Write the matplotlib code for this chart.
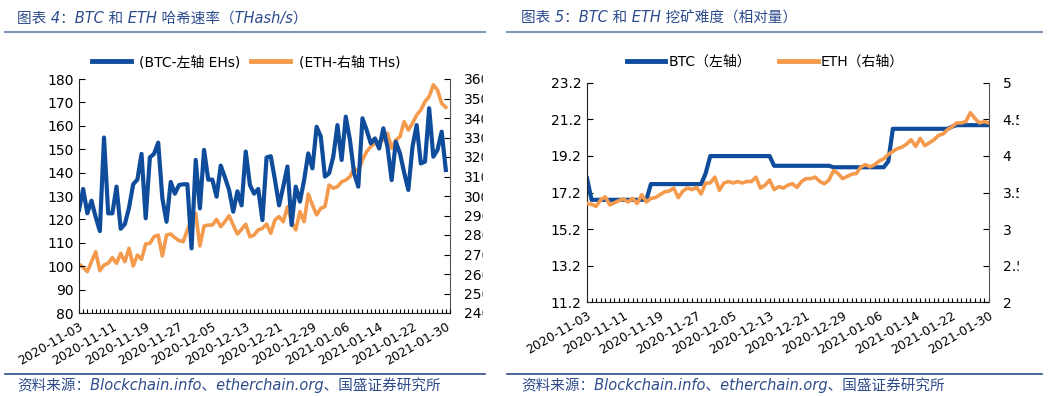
import matplotlib
matplotlib.use("Agg")
import matplotlib.pyplot as plt
from matplotlib.lines import Line2D
from matplotlib.patches import Rectangle
from matplotlib.ticker import MultipleLocator, FixedLocator
import pandas as pd

plt.rcParams['font.family'] = ['DejaVu Sans', 'Noto Sans CJK SC']
plt.rcParams['axes.unicode_minus'] = False

dates = pd.date_range('2020-11-03', periods=89, freq='D')
tick_labels = [d.strftime('%Y-%m-%d') for d in dates[::8]]

# hash rate, BTC (EH/s, left) and ETH (TH/s, right)
btc_hash = [124, 133, 122.6, 128, 121, 115, 155, 122.6, 122.6, 134,
            116, 118, 125, 135, 137, 148, 120.5, 146.5, 148, 152.8,
            129, 119, 136, 131, 134.7, 135, 135, 107.6, 145.4, 124.7,
            149.7, 137, 137, 129.7, 143, 138, 132.6, 123.3, 132, 126,
            149, 134.7, 131, 133, 119.7, 146.5, 147, 137, 126, 134,
            142.6, 117.6, 134, 127.6, 136.8, 148.2, 141.8, 159.6, 155.4, 138.3,
            139.7, 146.8, 160.3, 145.4, 163.9, 153.9, 139.7, 134, 163.2, 158.2,
            152.5, 154.6, 150.3, 158.9, 151, 136.8, 153.2, 148.2, 140, 132.6,
            151, 160.3, 143.9, 144.7, 167.5, 146.8, 149.7, 157.5, 141.1]
eth_hash = [265, 263.4, 261.2, 266.3, 271.4, 261.7, 264.6, 265.5, 268.4, 265.5,
            270.6, 266.3, 273.2, 264.1, 269.7, 267.5, 275.4, 275.7, 279.1, 280,
            269.2, 280, 280.5, 278.6, 277.1, 276.6, 282.6, 287.7, 291.1, 274.4,
            284.6, 285.1, 285.1, 288, 284.3, 286.8, 289.9, 285.1, 280.5, 282.9,
            285.5, 279.1, 280, 282.6, 283.4, 285.6, 280.9, 287.7, 289.4, 286.8,
            294.5, 286.8, 282.6, 292, 286.8, 301, 295.4, 290.3, 293.7, 294.5,
            305.6, 304, 304.8, 307.3, 308.2, 309.9, 314.2, 312.5, 318.5, 322.7,
            325.3, 327, 327.9, 328.7, 332.2, 324.5, 328.7, 330.4, 338.1, 333.8,
            337.3, 341.5, 344.1, 348.4, 351, 357, 354.4, 347.5, 345.5]

# mining difficulty, BTC (left) and ETH (right)
btc_diff = [17.98, 16.8, 16.8, 16.8, 16.8, 16.8, 16.8, 16.8, 16.8, 16.8,
            16.8, 16.8, 16.8, 16.8, 17.66, 17.66, 17.66, 17.66, 17.66, 17.66,
            17.66, 17.66, 17.66, 17.66, 17.66, 17.66, 18.25, 19.19, 19.19, 19.19,
            19.19, 19.19, 19.19, 19.19, 19.19, 19.19, 19.19, 19.19, 19.19, 19.19,
            19.19, 18.66, 18.66, 18.66, 18.66, 18.66, 18.66, 18.66, 18.66, 18.66,
            18.66, 18.66, 18.66, 18.66, 18.58, 18.58, 18.58, 18.58, 18.58, 18.58,
            18.58, 18.58, 18.58, 18.58, 18.58, 18.58, 18.9, 20.68, 20.68, 20.68,
            20.68, 20.68, 20.68, 20.68, 20.68, 20.68, 20.68, 20.68, 20.68, 20.68,
            20.8, 20.88, 20.88, 20.88, 20.88, 20.88, 20.88, 20.88, 20.88]
eth_diff = [3.35, 3.34, 3.31, 3.40, 3.44, 3.33, 3.36, 3.39, 3.41, 3.37,
            3.42, 3.35, 3.47, 3.37, 3.42, 3.43, 3.47, 3.51, 3.52, 3.56,
            3.43, 3.52, 3.56, 3.54, 3.57, 3.48, 3.63, 3.63, 3.71, 3.53,
            3.63, 3.65, 3.63, 3.65, 3.63, 3.65, 3.65, 3.71, 3.56, 3.60,
            3.67, 3.54, 3.58, 3.56, 3.60, 3.62, 3.57, 3.65, 3.69, 3.69,
            3.71, 3.65, 3.62, 3.67, 3.80, 3.76, 3.69, 3.72, 3.75, 3.76,
            3.85, 3.88, 3.85, 3.88, 3.93, 3.96, 4.02, 4.06, 4.10, 4.12,
            4.16, 4.22, 4.13, 4.24, 4.14, 4.18, 4.22, 4.28, 4.30, 4.36,
            4.40, 4.45, 4.45, 4.47, 4.59, 4.51, 4.45, 4.47, 4.45]

BLUE = '#0F4C9B'
ORANGE = '#F39A4C'
TXT = '#2E4C8C'
RULE = '#7F95B8'
W, H = 1054, 396

fig = plt.figure(figsize=(W / 100, H / 100), dpi=100)


def fx(px):
    return px / W


def fy(py):
    return 1 - py / H


def style_axes(ax, ax2, n):
    x = list(range(n))
    ax.xaxis.set_major_locator(FixedLocator(x[::8]))
    ax.set_xticklabels(tick_labels, rotation=30, ha='right', rotation_mode='anchor', fontsize=9)
    ax.xaxis.set_minor_locator(MultipleLocator(1))
    ax.tick_params(axis='x', which='both', direction='in', length=3, width=0.8, pad=5)
    ax.tick_params(axis='y', direction='in', length=4, labelsize=10, pad=4)
    ax2.tick_params(axis='y', direction='in', length=4, labelsize=10, pad=4)
    ax.spines['top'].set_visible(False)
    ax2.spines['top'].set_visible(False)
    ax2.spines['left'].set_visible(False)
    ax2.spines['bottom'].set_visible(False)
    ax2.spines['right'].set_color('#555555')
    ax.spines['right'].set_visible(False)
    for s in ['left', 'bottom']:
        ax.spines[s].set_color('#222222')


def mask(x0, x1):
    # the source picture is cut off here, hiding part of the right tick labels
    fig.add_artist(Rectangle((fx(x0), fy(330)), fx(x1 - x0), 260 / H,
                             transform=fig.transFigure, color='white', zorder=50))


# ---------- chart 4: hash rate ----------
ax = fig.add_axes([fx(79), fy(313), fx(450 - 79), (313 - 79) / H])
ax2 = ax.twinx()
x = list(range(len(btc_hash)))
ax.plot(x, btc_hash, color=BLUE, lw=3, solid_joinstyle='round')
ax2.plot(x, eth_hash, color=ORANGE, lw=2.6, solid_joinstyle='round')
ax.set_zorder(ax2.get_zorder() + 1)
ax.patch.set_visible(False)
ax.set_xlim(0, 89)
ax.set_ylim(80, 180)
ax.yaxis.set_major_locator(MultipleLocator(10))
ax2.set_ylim(240, 360)
ax2.yaxis.set_major_locator(MultipleLocator(10))
style_axes(ax, ax2, len(x))
ax2.tick_params(axis='y', pad=10)
mask(483, 503)

h1 = [Line2D([], [], color=BLUE, lw=3.5), Line2D([], [], color=ORANGE, lw=3.5)]
fig.legend(h1, ['(BTC-左轴 EHs)', '(ETH-右轴 THs)'], loc='center', ncol=2,
           bbox_to_anchor=(fx(246), fy(62)), frameon=False, fontsize=10,
           handlelength=2.8, columnspacing=0.8, handletextpad=0.6)

fig.text(fx(17), fy(18), '图表 4：BTC 和 ETH 哈希速率（THash/s）', color=TXT,
         fontsize=10.5, style='italic', va='center', ha='left')
fig.add_artist(Line2D([fx(5), fx(485)], [fy(32), fy(32)], color=RULE, lw=1.5))
fig.add_artist(Line2D([fx(5), fx(485)], [fy(374), fy(374)], color='#2E4C8C', lw=1.2))
fig.text(fx(17), fy(385), '资料来源：Blockchain.info、etherchain.org、国盛证券研究所', color=TXT,
         fontsize=10.5, style='italic', va='center', ha='left')

# ---------- chart 5: mining difficulty ----------
bx = fig.add_axes([fx(587), fy(302.3), fx(988.7 - 587), (302.3 - 82.7) / H])
bx2 = bx.twinx()
x = list(range(len(btc_diff)))
bx.plot(x, btc_diff, color=BLUE, lw=3, solid_joinstyle='round')
bx2.plot(x, eth_diff, color=ORANGE, lw=2.6, solid_joinstyle='round')
bx2.set_zorder(bx.get_zorder() + 1)
bx2.patch.set_visible(False)
bx.set_xlim(0, 88)
bx.set_ylim(11.2, 23.2)
bx.yaxis.set_major_locator(FixedLocator([11.2, 13.2, 15.2, 17.2, 19.2, 21.2, 23.2]))
bx.set_yticklabels(['11.2', '13.2', '15.2', '17.2', '19.2', '21.2', '23.2'])
bx2.set_ylim(2, 5)
bx2.yaxis.set_major_locator(FixedLocator([2, 2.5, 3, 3.5, 4, 4.5, 5]))
bx2.set_yticklabels(['2', '2.5', '3', '3.5', '4', '4.5', '5'])
style_axes(bx, bx2, len(x))
bx2.tick_params(axis='y', direction='in', length=4, labelsize=10, pad=10)
mask(1019, 1054)

h2 = [Line2D([], [], color=BLUE, lw=3.5), Line2D([], [], color=ORANGE, lw=3.5)]
fig.legend(h2, ['BTC（左轴）', 'ETH（右轴）'], loc='center', ncol=2,
           bbox_to_anchor=(fx(765), fy(62)), frameon=False, fontsize=10,
           handlelength=2.8, columnspacing=2.0, handletextpad=0.2)

fig.text(fx(521), fy(18), '图表 5：BTC 和 ETH 挖矿难度（相对量）', color=TXT,
         fontsize=10.5, style='italic', va='center', ha='left')
fig.add_artist(Line2D([fx(507), fx(1042)], [fy(32), fy(32)], color=RULE, lw=1.5))
fig.add_artist(Line2D([fx(507), fx(1042)], [fy(374), fy(374)], color='#2E4C8C', lw=1.2))
fig.text(fx(521), fy(385), '资料来源：Blockchain.info、etherchain.org、国盛证券研究所', color=TXT,
         fontsize=10.5, style='italic', va='center', ha='left')

fig.savefig('out.png', dpi=100)
